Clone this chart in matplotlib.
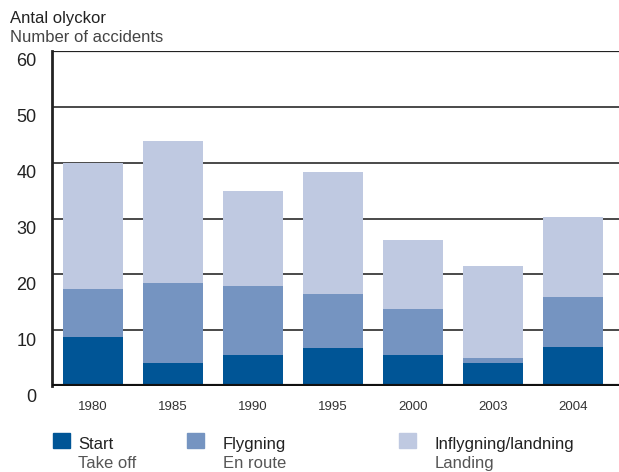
import numpy as np
import matplotlib as mpl
mpl.use("Agg")
import matplotlib.pyplot as plt
import matplotlib.transforms as mtrans

plt.rcParams['font.family'] = ['Liberation Sans', 'DejaVu Sans']

years = ["1980", "1985", "1990", "1995", "2000", "2003", "2004"]
start = [8.7, 4.1, 5.5, 6.8, 5.5, 4.1, 6.9]
flygning = [8.7, 14.3, 12.4, 9.6, 8.3, 0.9, 9.0]
landning = [22.6, 25.5, 17.0, 21.9, 12.3, 16.5, 14.4]

series_sv = ["Start", "Flygning", "Inflygning/landning"]
series_en = ["Take off", "En route", "Landing"]
colors = ["#005596", "#7594C1", "#BFC9E1"]

fig = plt.figure(figsize=(6.19, 4.72), dpi=100)
W, H = 619, 472
ax = fig.add_axes([52/W, (H-386)/H, (W-52)/W, (386-51)/H])

x = np.arange(len(years))
bottom = np.zeros(len(years))
for vals, c in zip([start, flygning, landning], colors):
  ax.bar(x, vals, 0.75, bottom=bottom, color=c, zorder=3)
  bottom += np.array(vals)

ax.set_ylim(0, 60)
ax.set_xlim(-0.51, 6.57)
for yv in [10, 20, 30, 40, 50]:
  ax.axhline(yv, color="#3a3a3a", lw=1.3, zorder=1)
ax.axhline(60, color="#222222", lw=1.6, zorder=1)
ax.axhline(0, color="#111111", lw=3, zorder=4)

for s in ["top", "right", "bottom"]:
  ax.spines[s].set_visible(False)
ax.spines["left"].set_linewidth(2)
ax.spines["left"].set_color("#222222")

ax.set_yticks([0, 10, 20, 30, 40, 50, 60])
ax.set_yticklabels(["0", "10", "20", "30", "40", "50", "60"], fontsize=13, color="#222222")
ax.tick_params(axis="y", length=0, pad=11)
shift = mtrans.ScaledTranslation(0, -9/100, fig.dpi_scale_trans)
for lab in ax.get_yticklabels():
  lab.set_transform(lab.get_transform() + shift)
ax.set_xticks(x)
ax.set_xticklabels(years, fontsize=9.5, color="#333333")
ax.tick_params(axis="x", length=0, pad=11)

fig.text(10/W, 1-18/H, "Antal olyckor", fontsize=12, color="#222222", va="center")
fig.text(10/W, 1-37/H, "Number of accidents", fontsize=12, color="#444444", va="center")

sq_x = [53, 187, 399]
txt_x = [78, 223, 435]
for i in range(3):
  fig.patches.append(mpl.patches.Rectangle((sq_x[i]/W, 1-448/H), 17/W, 15/H,
                                           transform=fig.transFigure, color=colors[i]))
  fig.text(txt_x[i]/W, 1-449/H, series_sv[i], fontsize=12, color="#222222", va="baseline")
  fig.text(txt_x[i]/W, 1-468/H, series_en[i], fontsize=12, color="#555555", va="baseline")

plt.savefig("out.png", dpi=100)
